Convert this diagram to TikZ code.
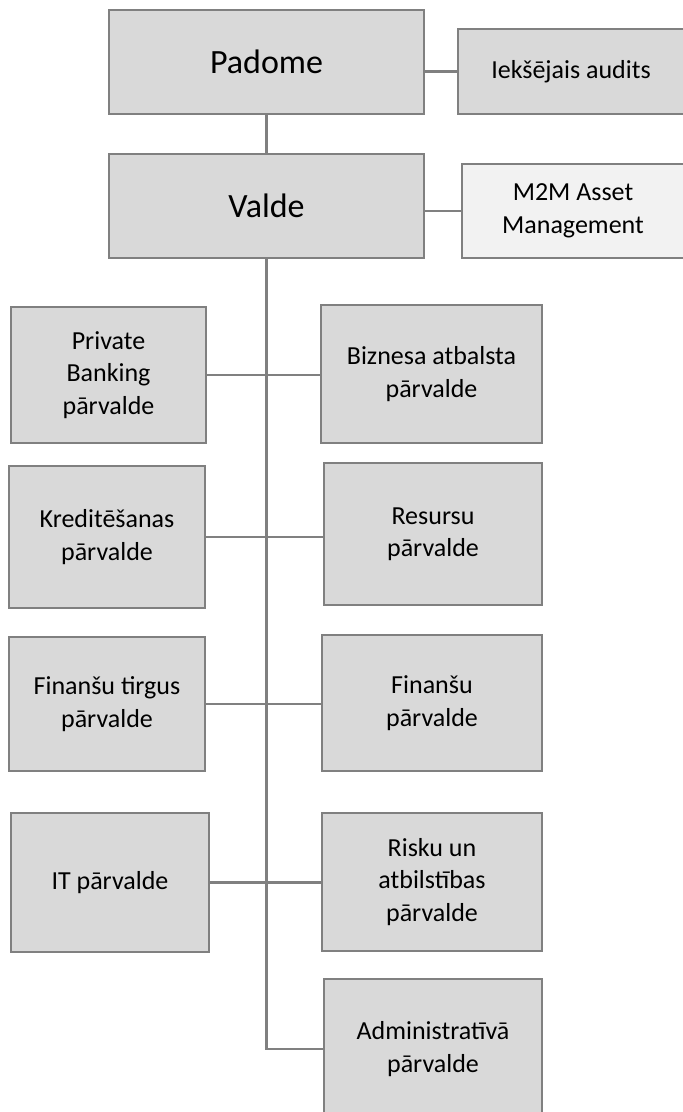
\documentclass[tikz,border=0pt]{standalone}
\usepackage{fontspec}
\setmainfont{Carlito}
\usepackage{tikz}
\definecolor{boxgray}{HTML}{D9D9D9}
\definecolor{lightbox}{HTML}{F2F2F2}
\definecolor{linegray}{HTML}{808080}

\begin{document}
\begin{tikzpicture}[x=1pt, y=-1pt,
    unit/.style={draw=linegray, line width=2pt, fill=boxgray, align=center,
      inner sep=0pt, font=\fontsize{26}{32.5}\selectfont},
    big/.style={font=\fontsize{34}{40}\selectfont},
    link/.style={draw=linegray, line width=2.5pt}]
    \useasboundingbox (0, 0) rectangle (683, 1112);

    % top level
    \node[unit, big, minimum width=315, minimum height=104] (padome) at (266.5, 62) {Padome};
    \node[unit, minimum width=226, minimum height=85] (audits) at (571, 71.5) {Iekšējais audits};
    \node[unit, big, minimum width=315, minimum height=104] (valde) at (266.5, 206) {Valde};
    \node[unit, fill=lightbox, minimum width=222, minimum height=94] (m2m) at (573, 211) {M2M Asset\\Management};

    % left column
    \node[unit, minimum width=195, minimum height=136] (pb) at (108.5, 375) {Private\\Banking\\pārvalde};
    \node[unit, minimum width=196, minimum height=142] (kred) at (107, 537) {Kreditēšanas\\pārvalde};
    \node[unit, minimum width=196, minimum height=134] (fint) at (107, 704) {Finanšu tirgus\\pārvalde};
    \node[unit, minimum width=198, minimum height=139] (it) at (110, 882.5) {IT pārvalde};

    % right column
    \node[unit, minimum width=221, minimum height=138] (biz) at (431.5, 374) {Biznesa atbalsta\\pārvalde};
    \node[unit, minimum width=218, minimum height=142] (res) at (433, 534) {Resursu\\pārvalde};
    \node[unit, minimum width=220, minimum height=136] (fin) at (432, 703) {Finanšu\\pārvalde};
    \node[unit, minimum width=220, minimum height=138] (risk) at (432, 882) {Risku un\\atbilstības\\pārvalde};
    \node[unit, minimum width=218, minimum height=140] (adm) at (433, 1049) {Administratīvā\\pārvalde};

    % connectors
    \draw[link] (padome.east |- audits.west) -- (audits.west);
    \draw[link] (valde.east |- m2m.west) -- (m2m.west);
    \draw[link] (padome.south) -- (valde.north);
    \coordinate (turn) at (valde.south |- adm.west);
    \draw[link] (valde.south) -- (turn) -- (adm.west);
    \draw[link] (pb.east) -- (biz.west |- pb.east);
    \draw[link] (kred.east) -- (res.west |- kred.east);
    \draw[link] (fint.east) -- (fin.west |- fint.east);
    \draw[link] (it.east) -- (risk.west |- it.east);
\end{tikzpicture}
\end{document}
